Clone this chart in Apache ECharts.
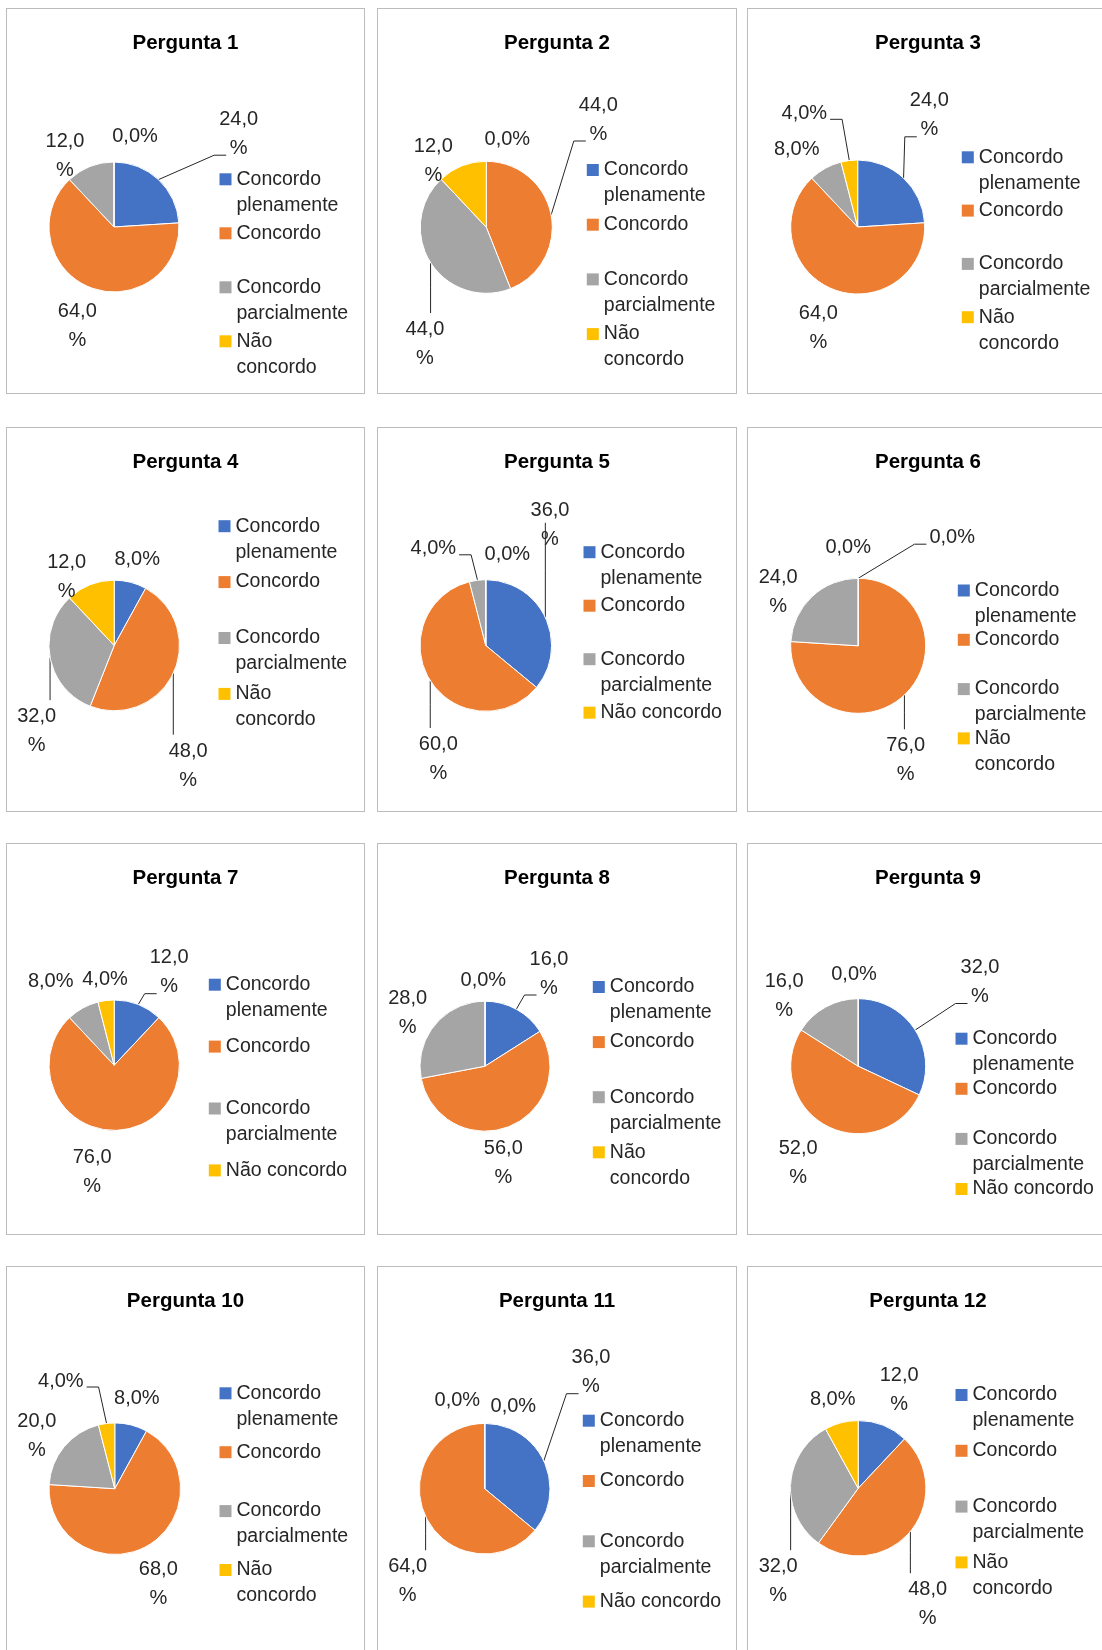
<!DOCTYPE html>
<html>
<head>
<meta charset="utf-8">
<script src="https://cdn.jsdelivr.net/npm/echarts@6/dist/echarts.min.js"></script>
<style>
  html, body { margin: 0; padding: 0; background: #fff; }
  body { width: 1102px; height: 1650px; position: relative; overflow: hidden; }
  .panel { position: absolute; box-sizing: border-box; border: 1px solid #bcbcbc; }
  .chart { position: absolute; }
</style>
</head>
<body>
<script>
const questions = ['Pergunta 1', 'Pergunta 2', 'Pergunta 3', 'Pergunta 4', 'Pergunta 5', 'Pergunta 6',
  'Pergunta 7', 'Pergunta 8', 'Pergunta 9', 'Pergunta 10', 'Pergunta 11', 'Pergunta 12']
const categories = ['Concordo plenamente', 'Concordo', 'Concordo parcialmente', 'Não concordo']

// percentages per question, one array per answer
const plenamente = [24, 0, 24, 8, 36, 0, 12, 16, 32, 8, 36, 12]
const concordo = [64, 44, 64, 48, 60, 76, 76, 56, 52, 68, 64, 48]
const parcialmente = [12, 44, 8, 32, 4, 24, 8, 28, 16, 20, 0, 32]
const naoConcordo = [0, 12, 4, 12, 0, 0, 4, 0, 0, 4, 0, 8]

const colors = ['#4472C4', '#ED7D31', '#A5A5A5', '#FFC000']
const FONT = '"Liberation Sans", Arial, sans-serif'
const TEXT = '#262626'
const LEGEND_SIZE = 19.5
const LEGEND_LINE = 26

// panel grid (3 columns x 4 rows)
const colLeft = [6, 377, 747]
const colWidth = [359, 360, 362]
const rowTop = [8, 427, 843, 1266]
const rowHeight = [386, 385, 392, 400]

// pie placement inside each panel
const pieCenter = [[108, 219], [109.3, 219.3], [110.7, 219], [108.2, 218.5], [108.8, 218.5], [111.2, 218.8],
  [108.2, 222.2], [108, 223.2], [111.2, 223.2], [108.8, 222.7], [107.7, 222.7], [111.2, 222.3]]
const pieRadius = [65, 66, 67, 65.3, 65.8, 67.5, 65.2, 65, 67.5, 65.8, 65.3, 67.7]

// legend: left, centre of first icon, slot height, wrap width
const legendSpot = [[214, 171.3, 54, 116], [210.3, 162, 54.7, 116], [215.3, 149.3, 53.3, 116],
  [213, 99.2, 55.9, 116], [207, 125.2, 53.5, 150], [211.3, 163.5, 49.3, 116],
  [203.3, 141.7, 61.9, 150], [216.3, 144, 55.1, 116], [209, 195.7, 50.1, 150],
  [214, 127.3, 58.9, 116], [206.3, 154.7, 60.3, 150], [209, 129, 55.8, 116]]

// data label offset from pie centre + leader kind ('' none, L tick left, R tick right, V vertical)
const labelSpots = [
  [[124.7, -93.3, 'L'], [-36.7, 98.5, ''], [-49, -71.5, ''], [21, -90.3, '']],
  [[21, -88, ''], [112, -107.8, 'L'], [-61.3, 116.8, 'V'], [-53, -66.5, '']],
  [[71.6, -111.7, 'L'], [-39.4, 100.5, ''], [-61, -78, ''], [-53.4, -113.7, 'R']],
  [[23, -86, ''], [74, 120.2, 'V'], [-77.5, 85.7, 'V'], [-47.5, -69, '']],
  [[64.2, -120.7, 'V'], [-47.5, 113.5, 'V'], [-52.5, -96.7, 'R'], [21.5, -91, '']],
  [[94, -108.6, 'L'], [47.5, 114.5, 'V'], [-80, -54, ''], [-10, -98, '']],
  [[55, -93, 'L'], [-22, 106.7, ''], [-63.5, -83.8, ''], [-9.2, -86.2, '']],
  [[64, -92.7, 'L'], [18.3, 96.3, ''], [-77.3, -52.8, ''], [-1.7, -85.8, '']],
  [[121.8, -84.2, 'L'], [-60, 97.2, ''], [-74, -70.3, ''], [-4.2, -91.5, '']],
  [[22, -90.4, ''], [43.5, 95.1, ''], [-78, -53.2, ''], [-54, -107.7, 'R']],
  [[106.3, -116.5, 'L'], [-77, 92.6, 'V'], [-27.4, -88, ''], [28.6, -82.7, '']],
  [[41, -98.3, ''], [69.5, 115.9, 'V'], [-80, 92.9, 'V'], [-25.5, -89.3, '']]
]

const measureCtx = document.createElement('canvas').getContext('2d')
measureCtx.font = LEGEND_SIZE + 'px ' + FONT

function wrapWords (text, width) {
  const lines = []
  let cur = ''
  text.split(' ').forEach(w => {
    const t = cur ? cur + ' ' + w : w
    if (cur && measureCtx.measureText(t).width > width) {
      lines.push(cur)
      cur = w
    } else {
      cur = t
    }
  })
  lines.push(cur)
  return lines
}

// every legend entry is a 3 line block whose middle line sits on the icon,
// so the first text line lines up with the swatch and all slots are equal
function legendText (name, width) {
  const lines = wrapWords(name, width)
  return [' ', lines[0], lines[1] || ' '].join('\n')
}

function pctText (v) {
  const s = v.toFixed(1).replace('.', ',')
  return v >= 10 ? s + '\n%' : s + '%'
}

// point on the arc at the middle of slice idx (clockwise from 12 o'clock)
function arcPoint (values, idx, c, r) {
  let before = 0
  for (let k = 0; k < idx; k++) before += values[k]
  const total = values.reduce((a, b) => a + b, 0)
  const a = (before + values[idx] / 2) / total * Math.PI * 2
  return [c[0] + r * Math.sin(a), c[1] - r * Math.cos(a)]
}

function leaderPoints (kind, p0, lx, ly, twoLines, halfWidth) {
  if (kind === 'V') {
    const endY = ly > p0[1] ? ly - 31 : ly - 2
    return [p0, [p0[0], (p0[1] + endY) / 2], [p0[0], endY]]
  }
  if (kind === 'R') {
    const y = ly + 6
    const x = lx + halfWidth + 3
    return [p0, [x + 12, y], [x, y]]
  }
  const y = ly + (twoLines ? 21.5 : 7)
  const x = lx - (twoLines ? 12.5 : halfWidth + 3)
  return [p0, [x - 12, y], [x, y]]
}

function place (el, i) {
  const row = Math.floor(i / 3)
  const col = i % 3
  el.style.left = colLeft[col] + 'px'
  el.style.top = rowTop[row] + 'px'
  el.style.width = colWidth[col] + 'px'
  el.style.height = rowHeight[row] + 'px'
}

questions.forEach((question, i) => {
  const box = document.createElement('div')
  box.className = 'panel'
  place(box, i)
  document.body.appendChild(box)

  const el = document.createElement('div')
  el.className = 'chart'
  place(el, i)
  document.body.appendChild(el)

  const values = [plenamente[i], concordo[i], parcialmente[i], naoConcordo[i]]
  const spots = labelSpots[i]
  const c = pieCenter[i]
  const r = pieRadius[i]
  const leg = legendSpot[i]

  const chart = echarts.init(el)
  chart.setOption({
    animation: false,
    title: {
      text: question,
      left: 'center',
      top: 20,
      textStyle: { fontFamily: FONT, fontWeight: 'bold', fontSize: 20.5, color: '#000' }
    },
    legend: {
      orient: 'vertical',
      left: leg[0] - 0.5,
      top: leg[1] - 1.5 * LEGEND_LINE,
      padding: 0,
      itemWidth: 12,
      itemHeight: 12,
      icon: 'rect',
      itemStyle: { borderWidth: 0 },
      itemGap: leg[2] - 3 * LEGEND_LINE,
      selectedMode: false,
      data: categories,
      formatter: name => legendText(name, leg[3]),
      textStyle: {
        fontFamily: FONT,
        fontSize: LEGEND_SIZE,
        color: TEXT,
        lineHeight: LEGEND_LINE
      }
    },
    series: [{
      type: 'pie',
      center: c,
      radius: r,
      startAngle: 90,
      clockwise: true,
      avoidLabelOverlap: false,
      emphasis: { disabled: true },
      itemStyle: { borderColor: '#fff', borderWidth: 1 },
      label: {
        show: true,
        position: 'outside',
        formatter: p => pctText(p.value),
        fontFamily: FONT,
        fontSize: 20,
        lineHeight: 29,
        color: TEXT,
        align: 'center'
      },
      labelLine: { show: true, lineStyle: { color: TEXT, width: 1 } },
      labelLayout: params => {
        const k = params.dataIndex
        const spot = spots[k]
        const lx = c[0] + spot[0]
        const ly = c[1] + spot[1]
        const out = { x: lx, y: ly, align: 'center', verticalAlign: 'middle' }
        if (spot[2]) {
          const halfWidth = params.labelRect ? params.labelRect.width / 2 : 23
          out.labelLinePoints = leaderPoints(spot[2], arcPoint(values, k, c, r), lx, ly, values[k] >= 10, halfWidth)
        }
        return out
      },
      data: categories.map((name, k) => ({
        name,
        value: values[k],
        itemStyle: { color: colors[k] },
        labelLine: { show: !!spots[k][2] }
      }))
    }]
  })
})
</script>
</body>
</html>
